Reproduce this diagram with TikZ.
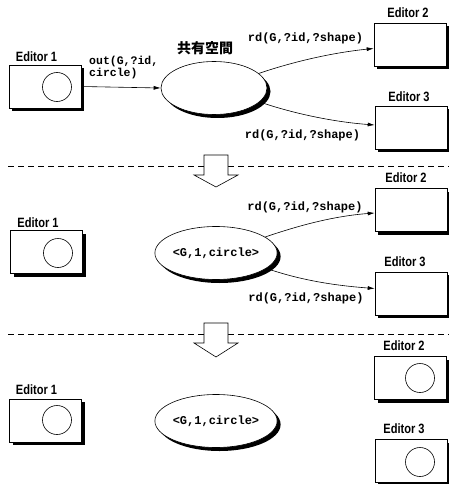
\documentclass[tikz,border=0pt]{standalone}
\usepackage{fontspec}
\setmainfont{Liberation Sans}
\newfontfamily\edfont{Liberation Sans}[FakeStretch=0.82]
\newfontfamily\cjkfont{Noto Sans CJK JP}
\newfontfamily\codefont{Liberation Mono}
\usetikzlibrary{shapes.geometric,shadows,arrows.meta}
\begin{document}
\begin{tikzpicture}[x=1pt,y=-1pt,
  edbox/.style={draw, fill=white, line width=0.6pt, minimum width=72pt, minimum height=43pt, inner sep=0pt,
    general shadow={fill=black, shadow xshift=3pt, shadow yshift=-3pt}},
  space/.style={ellipse, draw, fill=white, line width=0.6pt, minimum width=106pt, minimum height=53pt, inner sep=0pt,
    general shadow={fill=black, shadow xshift=3.5pt, shadow yshift=-3.5pt},
    font=\codefont\bfseries\fontsize{12}{13}\selectfont},
  shapecirc/.style={circle, draw, minimum size=29pt, inner sep=0pt, line width=0.6pt},
  edlabel/.style={font=\edfont\bfseries\fontsize{13.5}{14}\selectfont, inner sep=0pt},
  code/.style={font=\codefont\bfseries\fontsize{12}{12}\selectfont, inner sep=0pt, align=left},
  conn/.style={-{Latex[length=7pt,width=4pt]}, line width=0.6pt},
  sepline/.style={dash pattern=on 6pt off 4pt, line width=0.6pt},
  bigarrow/.style={draw, fill=white, line width=0.6pt, line join=miter}
]
\useasboundingbox (0,0) rectangle (449,484);

% ---------------- top section ----------------
\node[edbox] (e1a) at (45,86.5) {};
\node[shapecirc] (c1a) at (57,87) {};
\node[edlabel] (l1a) at (36.5,57) {Editor 1};

\node[space] (sp1) at (214,88) {};
\node[font=\cjkfont\bfseries\fontsize{14}{14}\selectfont, inner sep=0pt] (sptitle) at (205,48) {共有空間};

\node[edbox] (e2a) at (410,44.5) {};
\node[edlabel] (l2a) at (408,13) {Editor 2};
\node[edbox] (e3a) at (411,127.5) {};
\node[edlabel] (l3a) at (409,97) {Editor 3};

\node[code, anchor=north west, font=\codefont\bfseries\fontsize{11.5}{11.5}\selectfont] (outlbl) at (89,56) {out(G,?id,\\circle)};
\draw[conn] (e1a.east) -- (sp1.west);

\draw[conn] (sp1.18) .. controls +(35,-12) and +(-40,4) .. ([yshift=-4pt]e2a.west);
\draw[conn] (sp1.-17) .. controls +(35,12) and +(-40,-3) .. ([yshift=2.5pt]e3a.west);
\node[code] (rd1) at (305.5,38) {rd(G,?id,?shape)};
\node[code] (rd2) at (302.5,135) {rd(G,?id,?shape)};

% ---------------- separator 1 ----------------
\draw[sepline] (8,166) -- (449,166);
\draw[bigarrow] (204,155) -- (228,155) -- (228,175) -- (238,175) -- (216,187) -- (194,175) -- (204,175) -- cycle;

% ---------------- middle section ----------------
\node[edbox] (e1b) at (46.5,252) {};
\node[shapecirc] (c1b) at (58,253) {};
\node[edlabel] (l1b) at (38,223) {Editor 1};

\node[space] (sp2) at (216,253) {<G,1,circle>};

\node[edbox] (e2b) at (411,210) {};
\node[edlabel] (l2b) at (406,178) {Editor 2};
\node[edbox] (e3b) at (411,293.5) {};
\node[edlabel] (l3b) at (405,262) {Editor 3};

\draw[conn] (sp2.18) .. controls +(35,-12) and +(-40,3) .. ([yshift=-3pt]e2b.west);
\draw[conn] (sp2.-17) .. controls +(35,12) and +(-40,-3) .. ([yshift=5pt]e3b.west);
\node[code] (rd3) at (305,207) {rd(G,?id,?shape)};
\node[code] (rd4) at (306,298) {rd(G,?id,?shape)};

% ---------------- separator 2 ----------------
\draw[sepline] (8,334) -- (449,334);
\draw[bigarrow] (204,323) -- (228,323) -- (228,343) -- (238,343) -- (216,357) -- (194,343) -- (204,343) -- cycle;

% ---------------- bottom section ----------------
\node[edbox] (e1c) at (45.5,420.5) {};
\node[shapecirc] (c1c) at (57,420) {};
\node[edlabel] (l1c) at (36.5,390) {Editor 1};

\node[space] (sp3) at (216,421) {<G,1,circle>};

\node[edbox] (e2c) at (410.5,378) {};
\node[shapecirc] (c2c) at (420,378) {};
\node[edlabel] (l2c) at (404,346) {Editor 2};
\node[edbox] (e3c) at (411,461) {};
\node[shapecirc] (c3c) at (420,462) {};
\node[edlabel] (l3c) at (404,429) {Editor 3};
\end{tikzpicture}
\end{document}
